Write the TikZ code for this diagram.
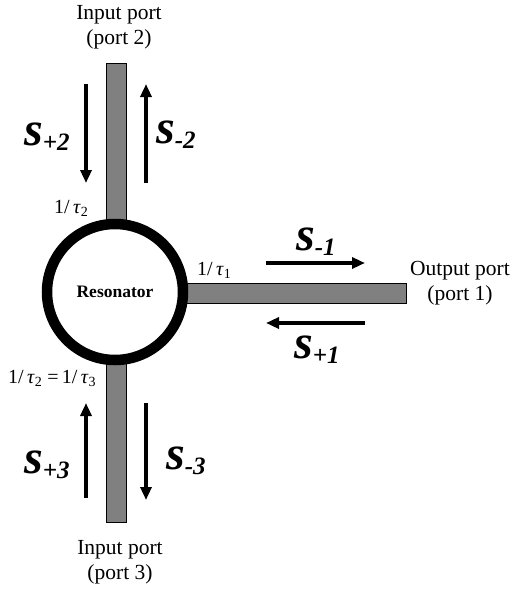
\documentclass[tikz,border=0pt]{standalone}
\usepackage{fontspec}
\setmainfont{Liberation Serif}
\usetikzlibrary{arrows.meta}
\definecolor{barfill}{gray}{0.5}
\newcommand\sLab[1]{{\fontsize{48}{48}\selectfont\bfseries\itshape s\raisebox{-5pt}{\fontsize{25}{25}\selectfont #1}}}
\begin{document}
\begin{tikzpicture}[x=1pt,y=-1pt,
  bar/.style={draw=black,line width=1pt,fill=barfill,inner sep=0pt,outer sep=0pt},
  flow/.style={line width=4pt,-{Triangle[length=13pt,width=11pt]}},
  port/.style={font=\fontsize{21.5}{25}\selectfont,align=center,inner sep=0pt},
  rate/.style={font=\fontsize{20}{24}\selectfont,anchor=base west,inner sep=0pt},
  slab/.style={anchor=base west,inner sep=0pt}]
\useasboundingbox (0,0) rectangle (513,592);
% bars
\node[bar,minimum width=20pt,minimum height=160pt] (bar2) at (116,143) {};
\node[bar,minimum width=20pt,minimum height=160pt] (bar3) at (116,442) {};
\node[bar,minimum width=226pt,minimum height=20pt] (bar1) at (293,293) {};
% resonator
\node[circle,draw,line width=10.5pt,minimum size=136pt,inner sep=0pt,fill=white,
  font=\fontsize{17.5}{20}\selectfont\bfseries] (res) at (115,292) {Resonator};
% arrow end points
\coordinate (p2a) at (86,84);   \coordinate (p2b) at (86,183);
\coordinate (m2a) at (146,183); \coordinate (m2b) at (146,84);
\coordinate (p3a) at (86,498);  \coordinate (p3b) at (86,403);
\coordinate (m3a) at (146,403); \coordinate (m3b) at (146,500);
\coordinate (m1a) at (266,263); \coordinate (m1b) at (365,263);
\coordinate (p1a) at (365,323); \coordinate (p1b) at (266,323);
\draw[flow] (p2a) -- (p2b);
\draw[flow] (m2a) -- (m2b);
\draw[flow] (p3a) -- (p3b);
\draw[flow] (m3a) -- (m3b);
\draw[flow] (m1a) -- (m1b);
\draw[flow] (p1a) -- (p1b);
% wave labels
\node[slab] (sp2) at (24,145) {\sLab{+2}};
\node[slab] (sm2) at (156,143) {\sLab{-2}};
\node[slab] (sp3) at (24,473) {\sLab{+3}};
\node[slab] (sm3) at (166,469) {\sLab{-3}};
\node[slab] (sm1) at (296,250) {\sLab{-1}};
\node[slab] (sp1) at (294,358) {\sLab{+1}};
% decay rates
\node[rate] (t2) at (54,213) {1/\,\textit{τ}\textsubscript{2}};
\node[rate] (t1) at (197,275) {1/\,\textit{τ}\textsubscript{1}};
\node[rate] (t23) at (8,383) {1/\,\textit{τ}\textsubscript{2} =\,1/\,\textit{τ}\textsubscript{3}};
% port labels
\node[port] (in2) at (119,27) {Input port\\(port 2)};
\node[port] (in3) at (120,562) {Input port\\(port 3)};
\node[port] (out1) at (460,283) {Output port\\(port 1)};
\end{tikzpicture}
\end{document}
